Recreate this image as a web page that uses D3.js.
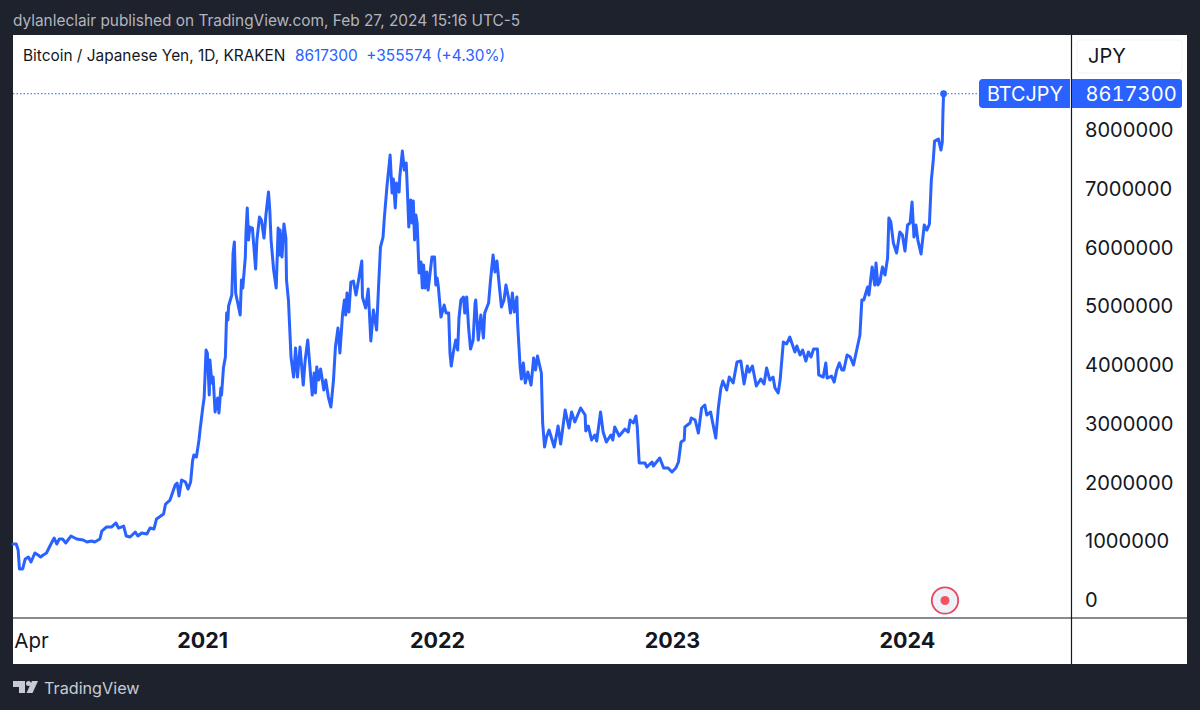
<!DOCTYPE html>
<html><head><meta charset="utf-8">
<script src="https://cdn.jsdelivr.net/npm/d3@7"></script>
<style>
html,body{margin:0;padding:0;background:#1e222d;overflow:hidden}
text{font-family:Inter,"Noto Sans",sans-serif}
</style></head><body><svg id="c" width="1200" height="710"></svg>
<script>
const startDate = "2020-03-13";
const lastPrice = 8617300;
const yTicks = [0,1000000,2000000,3000000,4000000,5000000,6000000,7000000,8000000];
const xTickDates = ["2020-04-10","2021-01-01","2022-01-01","2023-01-01","2024-01-01"];
const xTickLabels = ["Apr","2021","2022","2023","2024"];
const headerTitle = "Bitcoin / Japanese Yen, 1D, KRAKEN";
const headerValues = "8617300  +355574 (+4.30%)";
const publishLine = "dylanleclair published on TradingView.com, Feb 27, 2024 15:16 UTC-5";
// days since startDate
const tradeDays = [0,5,8,10,15,19,24,28,34,39,43,47,52,59,64,68,72,77,82,90,99,109,115,122,127,135,138,145,153,160,164,172,176,182,190,194,200,208,213,219,223,234,237,244,252,255,258,262,268,272,276,279,281,285,289,291,295,297,300,302,305,306,309,311,314,318,320,323,324,327,330,332,334,335,340,341,342,344,346,353,355,357,361,362,364,366,368,372,377,379,383,386,390,393,397,399,401,405,409,411,412,414,415,418,421,424,425,428,432,436,439,442,446,451,454,458,465,468,470,472,475,478,483,486,490,494,498,501,505,508,512,515,517,519,522,525,529,533,537,542,543,548,552,556,560,565,568,571,575,577,581,586,589,591,594,596,600,601,605,608,611,613,615,618,620,622,624,626,628,631,634,636,638,640,643,645,651,655,657,659,661,665,670,673,677,679,681,684,688,691,693,696,700,702,705,708,711,715,718,719,723,727,731,733,739,742,746,749,752,756,759,763,766,770,773,776,779,783,784,788,790,793,796,800,805,809,812,815,821,823,826,829,833,841,847,851,858,864,868,873,882,889,890,894,899,904,907,913,917,922,929,932,935,942,951,956,959,964,968,970,973,982,985,993,995,1005,1011,1018,1024,1030,1034,1038,1043,1044,1052,1054,1060,1065,1070,1075,1078,1084,1087,1092,1096,1100,1103,1109,1113,1119,1125,1131,1136,1141,1144,1149,1155,1162,1167,1171,1176,1181,1184,1189,1192,1197,1202,1207,1215,1218,1223,1227,1232,1236,1240,1244,1250,1252,1259,1263,1265,1272,1276,1280,1284,1288,1291,1296,1301,1306,1311,1316,1319,1322,1328,1330,1335,1339,1341,1344,1347,1351,1355,1359,1361,1364,1368,1373,1378,1382,1386,1390,1394,1397,1400,1403,1406,1411,1416,1420,1424,1427,1430,1432,1438,1442,1444,1445,1446];
// close, thousands of JPY
const closeThousands = [953,953,851,528,528,698,732,647,800,766,732,766,800,953,1055,953,1038,1038,970,1089,1038,1021,987,1004,987,1038,1174,1242,1242,1311,1225,1259,1089,1072,1157,1089,1140,1123,1225,1208,1379,1464,1634,1702,1957,1991,1770,2042,2008,1889,2008,2366,2468,2434,2723,2927,3285,3438,4255,4204,3489,4085,3693,3795,3200,3438,3183,3608,3489,3949,4136,4885,4766,5004,5191,5532,5906,6093,5225,4851,5446,5310,5838,6246,6672,6127,6348,6331,5634,6127,6519,6468,6161,6553,6944,6638,6127,5617,5310,5991,6331,5872,6297,5838,6400,6161,5446,5106,4136,3795,4289,3795,4306,3659,4085,4425,3489,3864,3523,3966,3744,3932,3574,3744,3455,3285,3744,4306,4629,4204,4851,5106,4851,5225,4902,5412,5429,5191,5446,5770,5157,4970,5293,4408,4936,4595,5327,6008,6178,6502,7029,7574,6927,7165,6672,7097,6944,7199,7642,7319,7438,6927,6348,6808,6417,6791,6127,6553,6417,5566,5753,5310,5702,5310,5583,5276,5838,5838,5361,5480,5327,4817,5021,4885,4885,4204,3983,4204,4425,4255,4800,5106,5157,4885,5157,4629,4272,4425,5055,5106,4425,4851,4459,4885,5055,5446,5872,5583,5770,5310,4987,5106,5361,5140,4885,5225,4902,5157,4732,3966,3761,4034,3693,3881,3659,4119,3915,4153,3864,3013,2604,2774,2893,2604,2961,2655,3234,2927,3200,3030,3268,3149,2876,2961,2723,2808,2706,3200,2859,2689,2808,2723,2944,2791,2910,2859,3064,3013,3132,2944,2332,2332,2264,2349,2281,2417,2247,2247,2179,2247,2349,2689,2723,2944,3013,3098,3064,2842,3268,3319,3149,3200,3030,2757,3268,3608,3727,3574,3795,3693,4051,4068,3676,3983,3881,3983,3642,3761,3676,3949,3744,3795,3608,3523,3744,4391,4357,4476,4221,4323,4170,4255,4068,4221,4136,4272,4272,3830,3795,4034,3778,3812,3710,3915,4034,3915,3915,4170,4136,4000,4255,4510,5106,5106,5327,5191,5668,5361,5736,5361,5412,5668,5532,5821,6502,6434,6076,5906,6263,6212,5940,6383,6417,6774,6178,6383,6127,5889,6383,6297,6400,7148,7489,7812,7846,7659,7795,8289,8617.3];

const BLUE = "#2962ff", INK = "#131722", DARK = "#1e222d";
const L = 13, R = 1187, T = 35, B = 664, AX = 1071.5, AY = 618;
const parse = d3.utcParse("%Y-%m-%d");
const t0 = parse(startDate);
const series = tradeDays.map((d,i)=>({date:d3.utcDay.offset(t0,d),close:closeThousands[i]*1000}));

const svg = d3.select("#c");
svg.append("rect").attr("width",1200).attr("height",710).attr("fill",DARK);
svg.append("rect").attr("x",L).attr("y",T).attr("width",R-L).attr("height",B-T).attr("fill","#fff");

const x = d3.scaleUtc().domain([t0,d3.utcDay.offset(t0,1644)]).range([L,1071]);
const y = d3.scaleLinear().domain([0,8000000]).range([600,130]);

svg.append("text").attr("x",13).attr("y",26).attr("font-size",15.4).attr("fill","#b2b5be").text(publishLine);
svg.append("line").attr("x1",AX).attr("x2",AX).attr("y1",T).attr("y2",B).attr("stroke",INK).attr("stroke-width",1.2);
svg.append("line").attr("x1",L).attr("x2",R).attr("y1",AY).attr("y2",AY).attr("stroke",INK).attr("stroke-width",1.2);

// last price guide
svg.append("line").attr("x1",L).attr("x2",980).attr("y1",y(lastPrice)).attr("y2",y(lastPrice))
  .attr("stroke",BLUE).attr("stroke-width",1).attr("stroke-dasharray","1.5 2");

const line = d3.line().x(d=>x(d.date)).y(d=>y(d.close));
svg.append("path").datum(series).attr("d",line).attr("fill","none").attr("stroke",BLUE)
  .attr("stroke-width",3).attr("stroke-linejoin","round").attr("stroke-linecap","round");
const last = series[series.length-1];
svg.append("circle").attr("cx",x(last.date)).attr("cy",y(last.close)).attr("r",3.4).attr("fill",BLUE);

// axes
const yAxis = svg.append("g").attr("transform",`translate(1085,0.3)`)
  .call(d3.axisRight(y).tickValues(yTicks).tickSize(0).tickPadding(0).tickFormat(d3.format("d")));
yAxis.select(".domain").remove();
yAxis.selectAll("text").attr("font-size",20.1).attr("fill",INK).attr("font-family","Inter");

const xAxis = svg.append("g").attr("transform",`translate(0,${AY+15})`)
  .call(d3.axisBottom(x).tickValues(xTickDates.map(parse)).tickSize(0).tickPadding(0)
    .tickFormat((d,i)=>xTickLabels[i]));
xAxis.select(".domain").remove();
xAxis.selectAll("text").attr("font-family","Inter").attr("fill",INK)
  .attr("font-size",(d,i)=>i===0?20.5:21.5)
  .attr("font-weight",(d,i)=>i===0?400:700);

// header
const h = svg.append("text").attr("x",23).attr("y",60.5).attr("font-size",15.4);
h.append("tspan").attr("fill",INK).text(headerTitle);
h.append("tspan").attr("dx",9.5).attr("fill",BLUE).attr("xml:space","preserve").style("white-space","pre").text(headerValues);

// currency box
svg.append("rect").attr("x",1077).attr("y",40).attr("width",105).attr("height",33).attr("rx",4)
  .attr("fill","#fff").attr("stroke","#f0f3fa");
svg.append("text").attr("x",1088).attr("y",63).attr("font-size",20).attr("fill",INK).text("JPY");

// price tags
svg.append("path").attr("fill",BLUE)
  .attr("d","M983 79H1070V108H983a4 4 0 0 1-4-4V83a4 4 0 0 1 4-4Z");
svg.append("path").attr("fill",BLUE)
  .attr("d","M1072 79H1179a3 3 0 0 1 3 3V105a3 3 0 0 1-3 3H1072Z");
svg.append("text").attr("x",987).attr("y",101).attr("font-size",19.8).attr("fill","#fff").text("BTCJPY");
svg.append("text").attr("x",1085.5).attr("y",101).attr("font-size",20.1).attr("fill","#fff")
  .style("font-variant-numeric","tabular-nums").text(String(lastPrice));

// live marker
svg.append("circle").attr("cx",945).attr("cy",600.5).attr("r",13.2).attr("fill","#eef1f8").attr("stroke","#e8475f").attr("stroke-width",1.8);
svg.append("circle").attr("cx",945).attr("cy",600.5).attr("r",4.5).attr("fill","#f7525f");

// brand
const logo = svg.append("g").attr("fill","#c8cbd3");
logo.append("path").attr("d","M13 681H25V693H19V687H13Z");
logo.append("circle").attr("cx",28.5).attr("cy",683.5).attr("r",2.5);
logo.append("path").attr("d","M32 681H38L32.5 693H26.5Z");
svg.append("text").attr("x",44).attr("y",694).attr("font-size",16.2).attr("fill","#c8cbd3").text("TradingView");
</script></body></html>
